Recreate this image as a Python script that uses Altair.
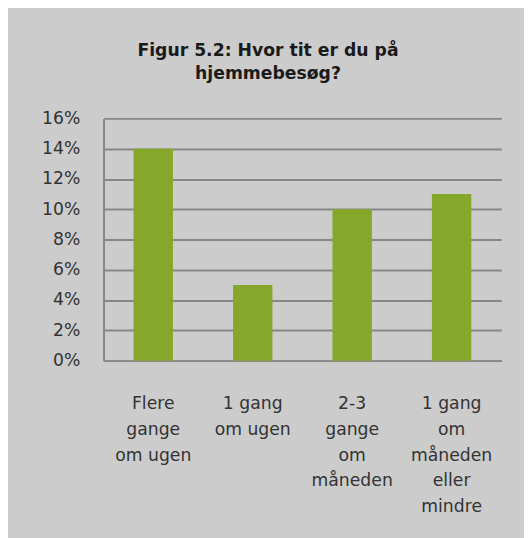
import altair as alt
import pandas as pd

categories = ["Flere|gange|om ugen", "1 gang|om ugen", "2-3|gange|om|måneden", "1 gang|om|måneden|eller|mindre"]
values = [0.14, 0.05, 0.10, 0.11]
y_ticks = [0, 0.02, 0.04, 0.06, 0.08, 0.10, 0.12, 0.14, 0.16]
title_lines = ["Figur 5.2: Hvor tit er du på", "hjemmebesøg?"]

df = pd.DataFrame({"cat": categories, "val": values})

FONT = "DejaVu Sans"

chart = alt.Chart(df).mark_bar(color="#85a82b").encode(
    x=alt.X("cat:N", sort=None, title=None,
            scale=alt.Scale(paddingInner=0.604, paddingOuter=0.302),
            axis=alt.Axis(labelAngle=0, labelExpr="split(datum.label, '|')",
                          labelFontSize=17.5, labelColor="#333333", labelFont=FONT,
                          labelLineHeight=26, labelPadding=35, ticks=False,
                          domainColor="#878787", domainWidth=2, labelLimit=200)),
    y=alt.Y("val:Q", title=None,
            scale=alt.Scale(domain=[0, 0.16], nice=False),
            axis=alt.Axis(values=y_ticks, format=".0%", ticks=False,
                          labelFontSize=17.5, labelColor="#333333", labelFont=FONT,
                          labelPadding=24, gridColor="#878787", gridWidth=2,
                          domainColor="#878787", domainWidth=2)),
).properties(
    width=404, height=246,
    title=alt.TitleParams(title_lines, anchor="middle", fontSize=17.5, font=FONT,
                          fontWeight="bold", color="#1a1a1a", lineHeight=23,
                          dx=-35, offset=28),
    background="#cccccc",
    padding={"left": 97, "top": 108, "right": 23, "bottom": 176},
    autosize=alt.AutoSizeParams(type="none"),
).configure_view(stroke=None)

chart.save("out.html", embed_options={"renderer": "svg", "actions": False})
